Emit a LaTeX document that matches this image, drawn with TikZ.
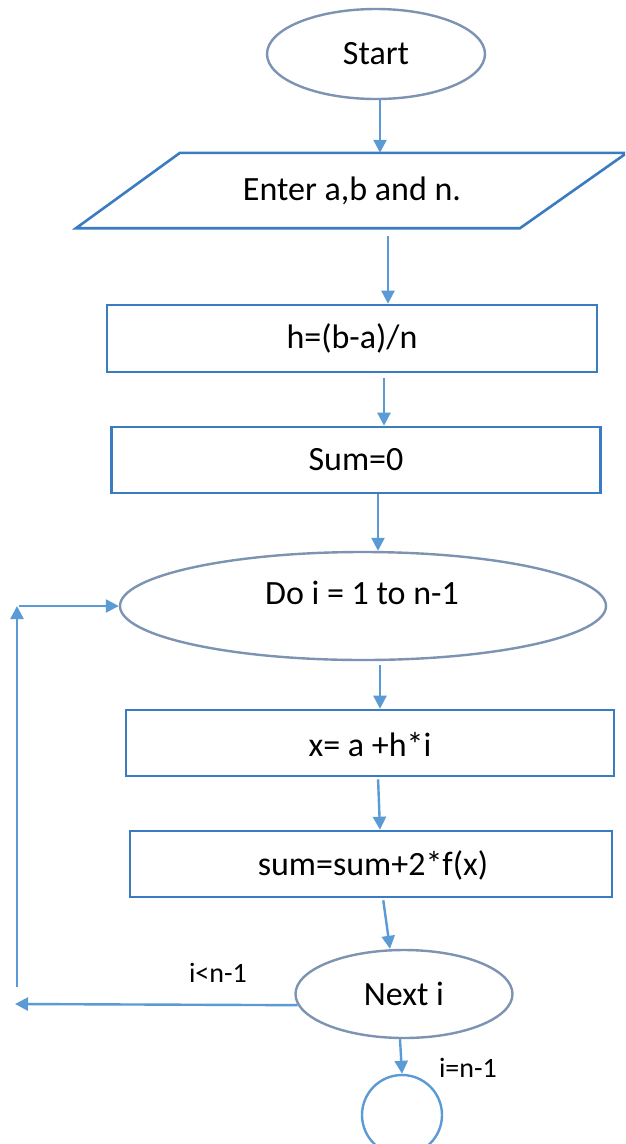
\documentclass[tikz,border=0pt]{standalone}
\usepackage{fontspec}
\setmainfont{Carlito}
\usetikzlibrary{shapes.geometric,arrows.meta}

\definecolor{boxblue}{HTML}{3B7BC2}
\definecolor{ovalgray}{HTML}{7D93B2}
\definecolor{arrowblue}{HTML}{5B9BD5}

\tikzset{
  txt/.style={font=\fontsize{34}{41}\selectfont, text=black, inner sep=0pt},
  oval/.style={ellipse, draw=ovalgray, line width=2.4pt, txt},
  procbox/.style={rectangle, draw=boxblue, line width=2.6pt, txt},
  arr/.style={draw=arrowblue, line width=2.4pt,
    -{Triangle[length=13pt,width=13pt]}},
  lbl/.style={font=\fontsize{28}{33}\selectfont, text=black, inner sep=0pt}
}

\begin{document}
\begin{tikzpicture}[x=1pt, y=-1pt]
  \useasboundingbox (0,0) rectangle (625,1144);
  \clip (0,0) rectangle (625,1144);
  \fill[white] (0,0) rectangle (625,1144);

  % terminal and process shapes
  \node[oval, minimum width=218pt, minimum height=90pt] (start) at (376,54) {Start};

  \node[txt, minimum height=75pt] (input) at (352,190.5) {Enter a,b and n.};
  \draw[boxblue, line width=2.6pt, line join=miter]
    ([xshift=-276pt]input.south) -- ([xshift=168pt]input.south)
    -- ([xshift=275pt]input.north) -- ([xshift=-172pt]input.north) -- cycle;

  \node[procbox, minimum width=490pt, minimum height=67pt] (h) at (352,338.5) {h=(b-a)/n};
  \node[procbox, minimum width=489pt, minimum height=66pt] (sumzero) at (356,460) {Sum=0};

  \node[oval, minimum width=486pt, minimum height=108pt] (do) at (363,606) {};
  \node[txt] (dotext) at (362,593) {Do i = 1 to n-1};

  \node[procbox, minimum width=488pt, minimum height=66pt] (xbox) at (370,743) {};
  \node[txt] (xtext) at (370,745) {x= a +h*i};
  \node[procbox, minimum width=482pt, minimum height=66pt] (sumbox) at (371,864) {};
  \node[txt] (sumtext) at (373,865) {sum=sum+2*f(x)};

  \node[oval, minimum width=217pt, minimum height=88pt] (next) at (404,994) {Next i};
  \node[circle, draw=arrowblue, line width=2.4pt, minimum size=80pt] (stop) at (402,1115) {};

  % branch labels
  \node[lbl] (lt) at (218,973) {i<n-1};
  \node[lbl] (eq) at (468,1068) {i=n-1};

  % loop corner points
  \coordinate (loopL) at (15,1004);
  \coordinate (loopB) at (17,987);
  \coordinate (loopT) at (17,606);

  % connectors
  \draw[arr] ([xshift=4pt]start.south) -- ([xshift=28pt]input.north);
  \draw[arr, shorten <=8pt] ([xshift=36pt]input.south) -- ([xshift=36pt]h.north);
  \draw[arr, shorten <=5pt] ([xshift=32pt]h.south) -- ([xshift=28pt]sumzero.north);
  \draw[arr] ([xshift=22pt]sumzero.south) -- ([xshift=15pt]do.north);
  \draw[arr, shorten <=4pt] ([xshift=17pt]do.south) -- ([xshift=10pt]xbox.north);
  \draw[arr, shorten <=2pt] ([xshift=8pt]xbox.south) -- ([xshift=9pt]sumbox.north);
  \draw[arr, shorten <=2pt] ([xshift=12pt]sumbox.south) -- ([xshift=-14pt]next.north);
  \draw[arr] ([xshift=-4pt]next.south) -- (stop.north);

  \draw[arr] (next.186) -- (loopL);
  \draw[arr] (loopB) -- (loopT);
  \draw[arr] ([xshift=2pt]loopT) -- (do.west);
\end{tikzpicture}
\end{document}
